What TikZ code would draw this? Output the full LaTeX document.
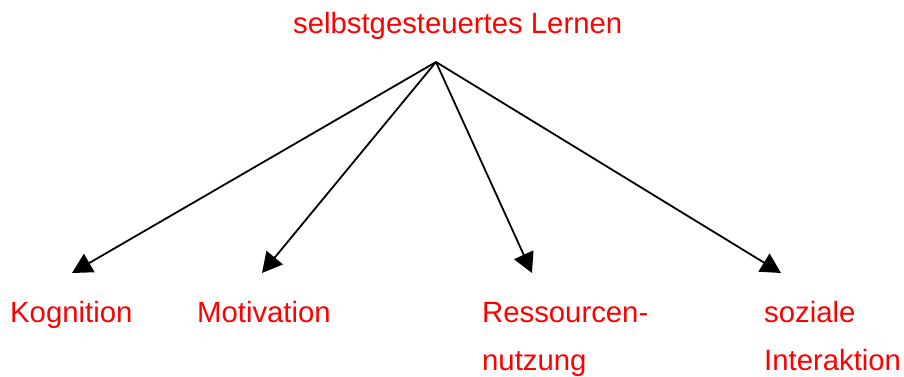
\documentclass[tikz,border=0pt]{standalone}
\usepackage{fontspec}
\setmainfont{Liberation Sans}
\usetikzlibrary{arrows.meta}
\begin{document}
\begin{tikzpicture}[x=1pt,y=-1pt,
  lbl/.style={anchor=base west,inner sep=0pt,text=red,font=\fontsize{29.3}{35}\selectfont},
  arr/.style={line width=1.8pt,-{Triangle[length=20pt,width=21pt]}}]
\useasboundingbox (0,0) rectangle (904,377);
\node[lbl] (root) at (293,34) {selbstgesteuertes Lernen};
\node[lbl] (kog) at (10,322) {Kognition};
\node[lbl] (mot) at (197,322) {Motivation};
\node[lbl] (res) at (482,322) {Ressourcen-};
\node[lbl] (nut) at (482,370) {nutzung};
\node[lbl] (soz) at (764,322) {soziale};
\node[lbl] (int) at (764,370) {Interaktion};
\coordinate (apex) at (436,62);
\coordinate (t1) at (72,273);
\coordinate (t2) at (262,273);
\coordinate (t3) at (532,273);
\coordinate (t4) at (781,273);
\draw[arr] (apex) -- (t1);
\draw[arr] (apex) -- (t2);
\draw[arr] (apex) -- (t3);
\draw[arr] (apex) -- (t4);
\end{tikzpicture}
\end{document}
